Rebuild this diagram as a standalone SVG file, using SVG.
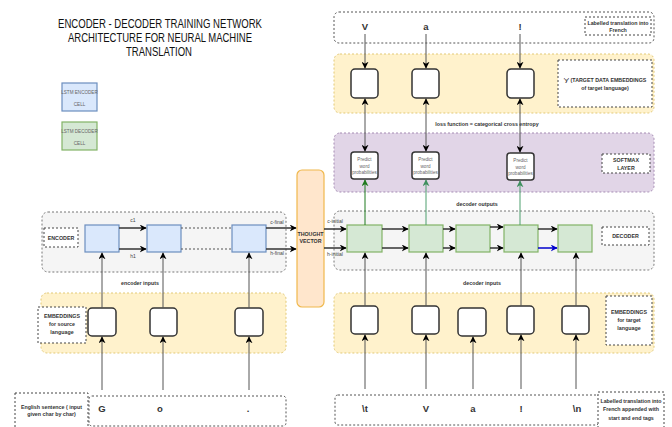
<svg xmlns="http://www.w3.org/2000/svg" width="672" height="427" viewBox="0 0 672 427">
  <style>
    text { font-family: "Liberation Sans", Arial, sans-serif; fill: #222; }
    .title { font-size: 13px; text-anchor: middle; fill: #111; }
    .lbl { font-size: 5.3px; font-weight: bold; text-anchor: middle; fill: #333; }
    .sm { font-size: 5px; text-anchor: middle; fill: #444; }
    .tiny { font-size: 4.6px; text-anchor: middle; fill: #666; }
    .seq { font-size: 9.5px; font-weight: bold; text-anchor: middle; fill: #333; }
    .tag { fill: #fff; stroke: #444; stroke-width: 1; stroke-dasharray: 2 2; }
    .seqbox { fill: #fff; stroke: #555; stroke-width: 1; stroke-dasharray: 2 2; }
    .gray { fill: #f5f5f5; stroke: #777; stroke-width: 1; stroke-dasharray: 2 2; }
    .yellow { fill: #fff2cc; stroke: #e2c977; stroke-width: 1; stroke-dasharray: 2 2; }
    .purple { fill: #e1d5e7; stroke: #a58bb3; stroke-width: 1; stroke-dasharray: 2 2; }
    .emb { fill: #fff; stroke: #333; stroke-width: 1.5; }
    .enc { fill: #dae8fc; stroke: #6c8ebf; stroke-width: 1.2; }
    .dec { fill: #d5e8d4; stroke: #82b366; stroke-width: 1.2; }
    .tv { fill: #ffe6cc; stroke: #f0b84c; stroke-width: 1.2; }
    .ln { fill: none; stroke: #555; stroke-width: 1; }
    .st { fill: none; stroke: #333; stroke-width: 1.5; }
    .dash { fill: none; stroke: #555; stroke-width: 1.2; stroke-dasharray: 2 2; }
  </style>
  <defs>
    <marker id="ah" viewBox="0 0 10 10" refX="9" refY="5" markerWidth="7" markerHeight="7" markerUnits="userSpaceOnUse" orient="auto-start-reverse">
      <path d="M0,0 L10,5 L0,10 L3,5 z" fill="#000"/>
    </marker>
    <marker id="ahg" viewBox="0 0 10 10" refX="9" refY="5" markerWidth="7" markerHeight="7" markerUnits="userSpaceOnUse" orient="auto">
      <path d="M0,0 L10,5 L0,10 L3,5 z" fill="#1f7a1f"/>
    </marker>
    <marker id="ahl" viewBox="0 0 10 10" refX="9" refY="5" markerWidth="7" markerHeight="7" markerUnits="userSpaceOnUse" orient="auto">
      <path d="M0,0 L10,5 L0,10 L3,5 z" fill="#3f8f5f"/>
    </marker>
    <marker id="ahb" viewBox="0 0 10 10" refX="9" refY="5" markerWidth="7" markerHeight="7" markerUnits="userSpaceOnUse" orient="auto">
      <path d="M0,0 L10,5 L0,10 L3,5 z" fill="#0000cc"/>
    </marker>
  </defs>

  <!-- title -->
  <g id="title">
    <text class="title" x="160" y="28" textLength="204" lengthAdjust="spacingAndGlyphs">ENCODER - DECODER TRAINING NETWORK</text>
    <text class="title" x="160" y="42" textLength="184" lengthAdjust="spacingAndGlyphs">ARCHITECTURE FOR NEURAL MACHINE</text>
    <text class="title" x="159" y="56" textLength="66" lengthAdjust="spacingAndGlyphs">TRANSLATION</text>
  </g>

  <!-- legend -->
  <g id="legend-encoder">
    <rect class="enc" x="62" y="83" width="35" height="28"/>
    <text class="tiny" x="79.5" y="94">LSTM ENCODER</text>
    <text class="tiny" x="79.5" y="106">CELL</text>
  </g>
  <g id="legend-decoder">
    <rect class="dec" x="62" y="122" width="35" height="28"/>
    <text class="tiny" x="79.5" y="133">LSTM DECODER</text>
    <text class="tiny" x="79.5" y="145">CELL</text>
  </g>

  <!-- background bands -->
  <g id="bands">
    <rect class="seqbox" x="334" y="12" width="320" height="31" rx="5"/>
    <rect class="yellow" x="334" y="54" width="320" height="59" rx="6"/>
    <rect class="purple" x="334" y="133" width="320" height="59" rx="6"/>
    <rect class="gray" x="334" y="211" width="320" height="59" rx="6"/>
    <rect class="yellow" x="334" y="293" width="320" height="60" rx="6"/>
    <rect class="seqbox" x="335" y="395" width="264" height="30" rx="3"/>
    <rect class="gray" x="42" y="212" width="244" height="60" rx="6"/>
    <rect class="yellow" x="41" y="293" width="245" height="60" rx="6"/>
    <rect class="seqbox" x="89" y="396" width="197" height="30" rx="3"/>
  </g>

  <!-- section labels -->
  <g id="label-target">
    <rect class="tag" x="585" y="17" width="66" height="18"/>
    <text class="lbl" x="618" y="25">Labelled translation into</text>
    <text class="lbl" x="618" y="32">French</text>
  </g>
  <g id="label-target-emb">
    <rect class="tag" x="558" y="60" width="94" height="47"/>
    <text class="lbl" x="605" y="82">'y' (TARGET DATA EMBEDDINGS</text>
    <text class="lbl" x="605" y="90">of target language)</text>
  </g>
  <g id="label-softmax">
    <rect class="tag" x="602" y="154" width="48" height="19"/>
    <text class="lbl" x="626" y="162">SOFTMAX</text>
    <text class="lbl" x="626" y="170">LAYER</text>
  </g>
  <g id="label-decoder">
    <rect class="tag" x="602" y="227" width="47" height="18"/>
    <text class="lbl" x="625.5" y="238">DECODER</text>
  </g>
  <g id="label-dec-emb">
    <rect class="tag" x="606" y="296" width="46" height="49"/>
    <text class="lbl" x="629" y="314">EMBEDDINGS</text>
    <text class="lbl" x="629" y="322">for target</text>
    <text class="lbl" x="629" y="330">language</text>
  </g>
  <g id="label-dec-seq">
    <rect class="tag" x="598" y="392" width="66" height="40"/>
    <text class="lbl" x="631" y="403">Labelled translation into</text>
    <text class="lbl" x="631" y="411">French appended with</text>
    <text class="lbl" x="631" y="420">start and end tags</text>
  </g>
  <g id="label-encoder">
    <rect class="tag" x="44" y="228" width="34" height="19"/>
    <text class="lbl" x="61" y="240">ENCODER</text>
  </g>
  <g id="label-src-emb">
    <rect class="tag" x="38" y="307" width="48" height="36"/>
    <text class="lbl" x="62" y="318">EMBEDDINGS</text>
    <text class="lbl" x="62" y="326">for source</text>
    <text class="lbl" x="62" y="334">language</text>
  </g>
  <g id="label-src-seq">
    <rect class="tag" x="15" y="393" width="73" height="40"/>
    <text class="lbl" x="51.5" y="409">English sentence ( input</text>
    <text class="lbl" x="51.5" y="416">given char by char)</text>
  </g>

  <!-- free captions -->
  <g id="captions">
    <text class="lbl" x="487" y="126">loss function = categorical cross entropy</text>
    <text class="lbl" x="477" y="206">decoder outputs</text>
    <text class="lbl" x="482" y="285">decoder inputs</text>
    <text class="lbl" x="140" y="285">encoder inputs</text>
    <text class="sm" x="133" y="222">c1</text>
    <text class="sm" x="133" y="258">h1</text>
    <text class="sm" x="277" y="224">c-final</text>
    <text class="sm" x="277" y="255">h-final</text>
    <text class="sm" x="335" y="223">c-initial</text>
    <text class="sm" x="335" y="256">h-initial</text>
  </g>

  <!-- target characters -->
  <g id="target-seq">
    <text class="seq" x="365" y="30">V</text>
    <text class="seq" x="426" y="30">a</text>
    <text class="seq" x="520" y="30">!</text>
  </g>
  <g id="dec-seq">
    <text class="seq" x="365" y="412">\t</text>
    <text class="seq" x="426" y="412">V</text>
    <text class="seq" x="473" y="412">a</text>
    <text class="seq" x="521" y="412">!</text>
    <text class="seq" x="577" y="412">\n</text>
  </g>
  <g id="src-seq">
    <text class="seq" x="102" y="412">G</text>
    <text class="seq" x="160" y="412">o</text>
    <text class="seq" x="248" y="412">.</text>
  </g>

  <!-- target embeddings -->
  <g id="tgt-emb-1"><rect class="emb" x="351" y="69" width="27" height="29" rx="4"/></g>
  <g id="tgt-emb-2"><rect class="emb" x="412" y="69" width="27" height="29" rx="4"/></g>
  <g id="tgt-emb-3"><rect class="emb" x="507" y="69" width="27" height="29" rx="4"/></g>

  <!-- softmax predictors -->
  <g id="predict-1">
    <rect class="emb" x="351" y="152" width="27" height="27" rx="3"/>
    <text class="tiny" x="364.5" y="161">Predict</text>
    <text class="tiny" x="364.5" y="167.5">word</text>
    <text class="tiny" x="364.5" y="174">probabilities</text>
  </g>
  <g id="predict-2">
    <rect class="emb" x="412" y="152" width="27" height="27" rx="3"/>
    <text class="tiny" x="425.5" y="161">Predict</text>
    <text class="tiny" x="425.5" y="167.5">word</text>
    <text class="tiny" x="425.5" y="174">probabilities</text>
  </g>
  <g id="predict-3">
    <rect class="emb" x="507" y="153" width="27" height="27" rx="3"/>
    <text class="tiny" x="520.5" y="162">Predict</text>
    <text class="tiny" x="520.5" y="168.5">word</text>
    <text class="tiny" x="520.5" y="175">probabilities</text>
  </g>

  <!-- decoder cells -->
  <g id="dec-1"><rect class="dec" x="347" y="225" width="35" height="27"/></g>
  <g id="dec-2"><rect class="dec" x="409" y="225" width="34" height="27"/></g>
  <g id="dec-3"><rect class="dec" x="456" y="225" width="34" height="27"/></g>
  <g id="dec-4"><rect class="dec" x="504" y="225" width="34" height="27"/></g>
  <g id="dec-5"><rect class="dec" x="558" y="225" width="34" height="27"/></g>

  <!-- decoder embeddings -->
  <g id="dec-emb-1"><rect class="emb" x="351" y="306" width="27" height="28" rx="4"/></g>
  <g id="dec-emb-2"><rect class="emb" x="412" y="306" width="27" height="28" rx="4"/></g>
  <g id="dec-emb-3"><rect class="emb" x="458" y="308" width="28" height="28" rx="4"/></g>
  <g id="dec-emb-4"><rect class="emb" x="507" y="306" width="27" height="28" rx="4"/></g>
  <g id="dec-emb-5"><rect class="emb" x="562" y="306" width="27" height="28" rx="4"/></g>

  <!-- encoder cells -->
  <g id="enc-1"><rect class="enc" x="85" y="225" width="34" height="27"/></g>
  <g id="enc-2"><rect class="enc" x="147" y="225" width="34" height="27"/></g>
  <g id="enc-3"><rect class="enc" x="232" y="225" width="34" height="27"/></g>

  <!-- source embeddings -->
  <g id="src-emb-1"><rect class="emb" x="88" y="308" width="28" height="28" rx="4"/></g>
  <g id="src-emb-2"><rect class="emb" x="150" y="308" width="27" height="28" rx="4"/></g>
  <g id="src-emb-3"><rect class="emb" x="235" y="308" width="28" height="28" rx="4"/></g>

  <!-- thought vector -->
  <g id="thought-vector">
    <rect class="tv" x="297" y="170" width="27" height="137" rx="5"/>
    <text class="lbl" x="310.5" y="236">THOUGHT</text>
    <text class="lbl" x="310.5" y="243">VECTOR</text>
  </g>

  <!-- connectors -->
  <g id="connectors">
    <!-- target characters into target embeddings -->
    <path class="ln" d="M365,34 V68" marker-end="url(#ah)"/>
    <path class="ln" d="M426,34 V68" marker-end="url(#ah)"/>
    <path class="ln" d="M520,34 V68" marker-end="url(#ah)"/>
    <!-- loss between predictions and targets -->
    <path class="ln" d="M365,99 V151" marker-start="url(#ah)" marker-end="url(#ah)"/>
    <path class="ln" d="M426,99 V151" marker-start="url(#ah)" marker-end="url(#ah)"/>
    <path class="ln" d="M520,99 V152" marker-start="url(#ah)" marker-end="url(#ah)"/>
    <!-- decoder outputs -->
    <path fill="none" stroke="#1f7a1f" stroke-width="1" d="M365,225 V180" marker-end="url(#ahg)"/>
    <path fill="none" stroke="#4f9f6f" stroke-width="1" d="M426,225 V180" marker-end="url(#ahl)"/>
    <path fill="none" stroke="#4f9f6f" stroke-width="1" d="M520,225 V181" marker-end="url(#ahl)"/>
    <!-- decoder recurrence -->
    <path class="st" d="M324,229 H346" marker-end="url(#ah)"/>
    <path class="st" d="M324,248 H346" marker-end="url(#ah)"/>
    <path class="st" d="M382,229 H408" marker-end="url(#ah)"/>
    <path class="st" d="M382,248 H408" marker-end="url(#ah)"/>
    <path class="st" d="M443,229 H455" marker-end="url(#ah)"/>
    <path class="st" d="M443,248 H455" marker-end="url(#ah)"/>
    <path class="st" d="M490,227 H503" marker-end="url(#ah)"/>
    <path class="st" d="M490,248 H503" marker-end="url(#ah)"/>
    <path class="st" d="M538,229 H557" marker-end="url(#ah)"/>
    <path fill="none" stroke="#0000cc" stroke-width="1.5" d="M538,248 H557" marker-end="url(#ahb)"/>
    <!-- decoder inputs -->
    <path class="ln" d="M365,306 V253" marker-end="url(#ah)"/>
    <path class="ln" d="M426,306 V253" marker-end="url(#ah)"/>
    <path class="ln" d="M521,306 V253" marker-end="url(#ah)"/>
    <path class="ln" d="M576,306 V253" marker-end="url(#ah)"/>
    <path class="ln" d="M365,389 V335" marker-end="url(#ah)"/>
    <path class="ln" d="M426,389 V335" marker-end="url(#ah)"/>
    <path class="ln" d="M473,389 V337" marker-end="url(#ah)"/>
    <path class="ln" d="M521,389 V335" marker-end="url(#ah)"/>
    <path class="ln" d="M576,389 V335" marker-end="url(#ah)"/>
    <!-- encoder recurrence -->
    <path class="st" d="M119,228 H146" marker-end="url(#ah)"/>
    <path class="st" d="M119,249 H146" marker-end="url(#ah)"/>
    <path class="dash" d="M181,228 H232"/>
    <path class="dash" d="M181,249 H232"/>
    <path class="st" d="M266,228 H296" marker-end="url(#ah)"/>
    <path class="st" d="M266,249 H296" marker-end="url(#ah)"/>
    <!-- encoder inputs -->
    <path class="ln" d="M102,308 V253" marker-end="url(#ah)"/>
    <path class="ln" d="M163,308 V253" marker-end="url(#ah)"/>
    <path class="ln" d="M249,308 V253" marker-end="url(#ah)"/>
    <path class="ln" d="M102,390 V337" marker-end="url(#ah)"/>
    <path class="ln" d="M163,390 V337" marker-end="url(#ah)"/>
    <path class="ln" d="M249,390 V337" marker-end="url(#ah)"/>
  </g>
</svg>
